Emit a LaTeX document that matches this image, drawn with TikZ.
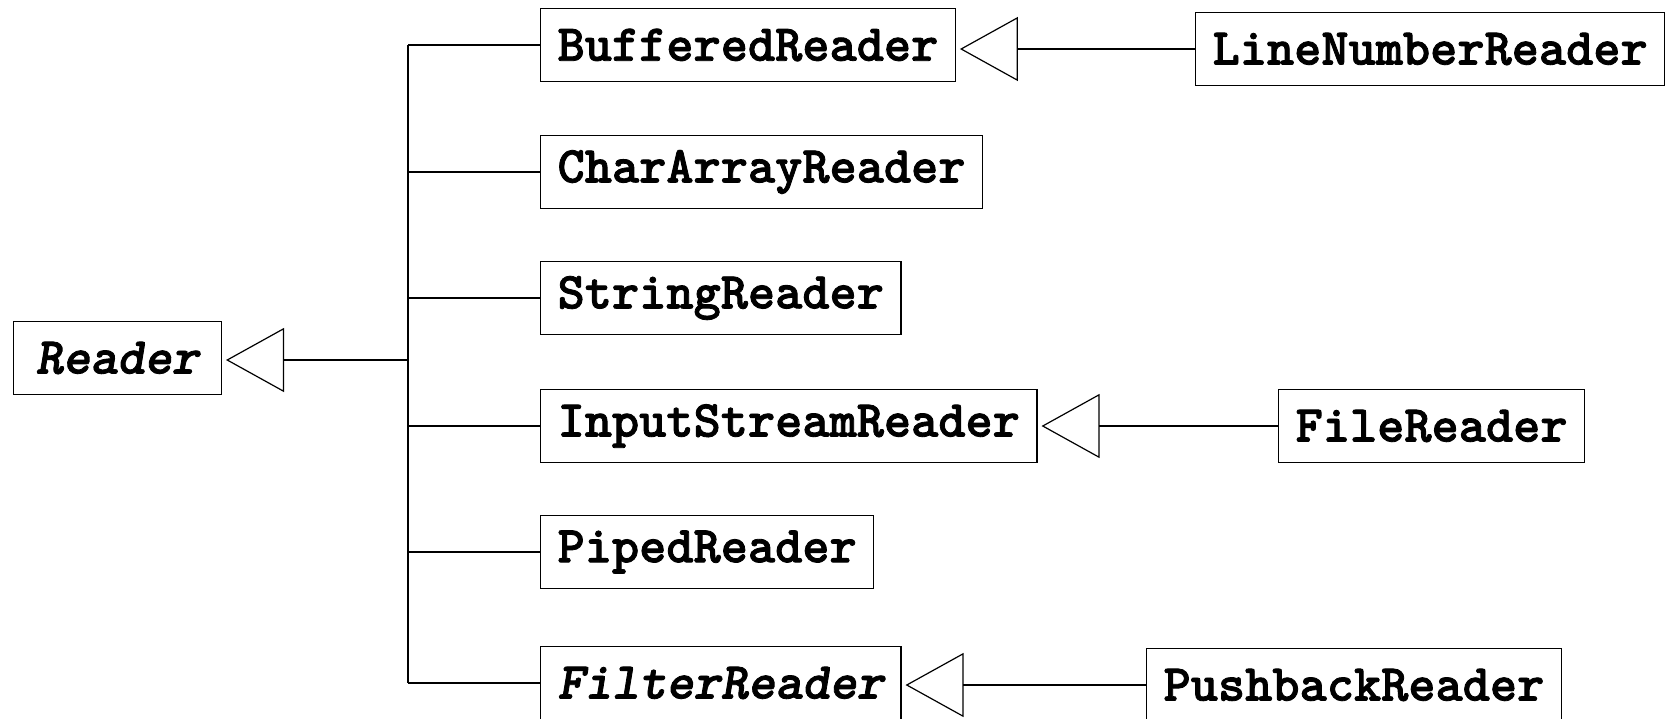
\documentclass[tikz,border=0pt]{standalone}
\usepackage{fontspec}
\newfontfamily\classfont{lmmonolt10-bold.otf}[FakeBold=1.6,ItalicFont=lmmonolt10-boldoblique.otf]
\usetikzlibrary{arrows.meta}
\begin{document}
\begin{tikzpicture}[x=0.5pt,y=-0.5pt,
              cls/.style={draw,line width=0.6pt,anchor=west,minimum height=36.5pt,
                inner xsep=8.5pt,inner ysep=0pt,
                font=\fontsize{25.9}{30}\selectfont\classfont},
              abstr/.style={cls,font=\fontsize{25.9}{30}\selectfont\classfont\itshape},
              inh/.style={line width=0.6pt,-{Triangle[open,length=29pt,width=32pt]},shorten >=2pt},
              link/.style={line width=0.6pt}]
              \useasboundingbox (0,0) rectangle (1669,718);
              \node[abstr,minimum width=104pt] (reader) at (12.8,358) {Reader};
              \node[cls] (buffered) at (540,45) {BufferedReader};
              \node[cls] (chararray) at (540,172) {CharArrayReader};
              \node[cls] (string) at (540,298) {StringReader};
              \node[cls] (inputstream) at (540,426) {InputStreamReader};
              \node[cls] (piped) at (540,552) {PipedReader};
              \node[abstr] (filter) at (540,683) {FilterReader};
              \node[cls] (linenumber) at (1195,49) {LineNumberReader};
              \node[cls] (file) at (1278,426) {FileReader};
              \node[cls] (pushback) at (1146,685) {PushbackReader};
              \coordinate (trunk) at (408,360);
              \draw[inh] (trunk) -- (trunk -| reader.east);
              \draw[link] (trunk |- buffered) -- (trunk |- filter);
              \draw[link] (trunk |- buffered) -- (buffered) (trunk |- chararray) -- (chararray)
              (trunk |- string) -- (string) (trunk |- inputstream) -- (inputstream)
              (trunk |- piped) -- (piped) (trunk |- filter) -- (filter);
              \draw[inh] (linenumber.west) -- (linenumber.west -| buffered.east);
              \draw[inh] (file.west) -- (file.west -| inputstream.east);
              \draw[inh] (pushback.west) -- (pushback.west -| filter.east);
            \end{tikzpicture}
\end{document}
